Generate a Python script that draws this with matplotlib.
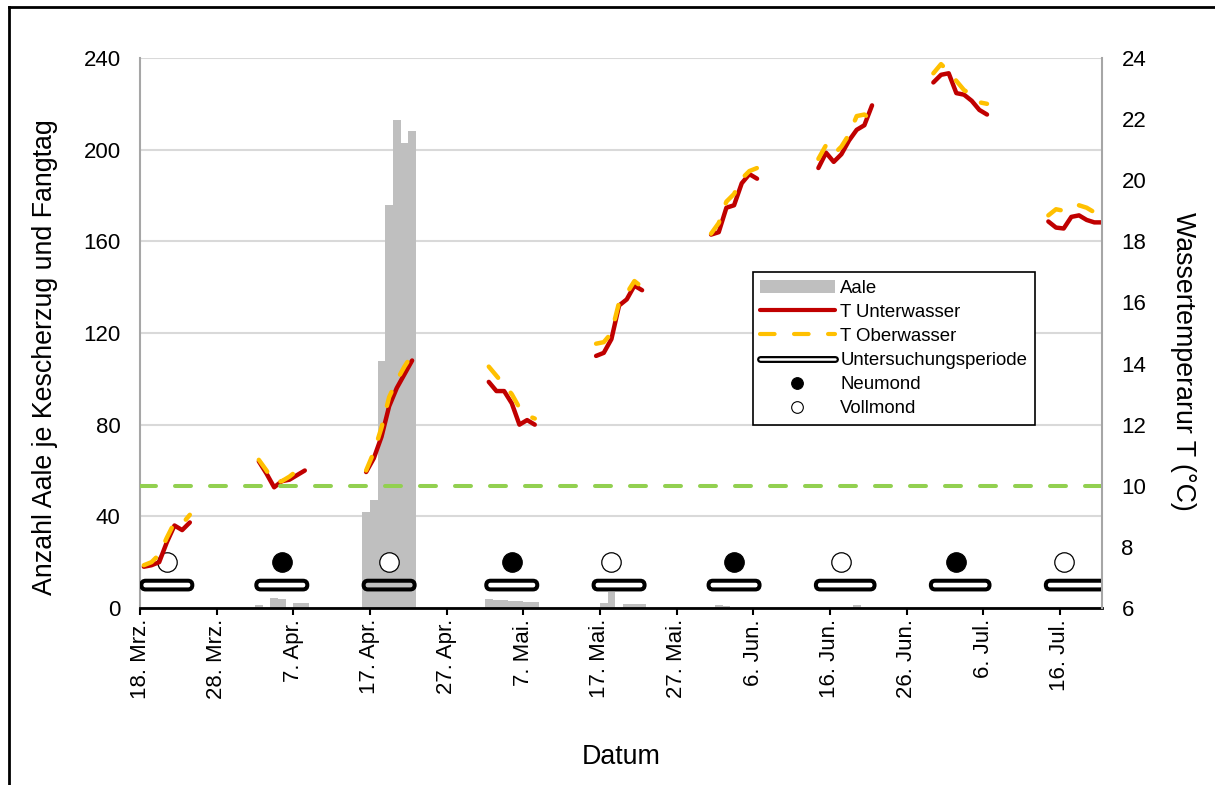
import matplotlib
matplotlib.use("Agg")
import matplotlib.pyplot as plt
import matplotlib.dates as mdates
from matplotlib.lines import Line2D
from matplotlib.patches import Patch, FancyBboxPatch
from matplotlib.legend_handler import HandlerTuple
import pandas as pd

plt.rcParams['font.family'] = ['Liberation Sans', 'DejaVu Sans']
plt.rcParams['lines.scale_dashes'] = False

# Untersuchungsperioden: Startdatum, Temperaturen je Fangtag
perioden_start = ["2019-03-18", "2019-04-02", "2019-04-16", "2019-05-02", "2019-05-16",
                  "2019-05-31", "2019-06-14", "2019-06-29", "2019-07-14"]

t_unter = [
    [7.35, 7.4, 7.5, 8.15, 8.7, 8.55, 8.8],
    [10.8, 10.4, 9.95, 10.15, 10.2, 10.35, 10.5],
    [10.45, 10.9, 11.6, 12.6, 13.2, 13.65, 14.1],
    [13.4, 13.1, 13.1, 12.7, 12.0, 12.15, 12.0],
    [14.25, 14.35, 14.8, 15.9, 16.1, 16.55, 16.4],
    [18.22, 18.3, 19.1, 19.18, 19.9, 20.2, 20.05],
    [20.4, 20.9, 20.6, 20.85, 21.3, 21.65, 21.8, 22.45],
    [23.2, 23.45, 23.5, 22.85, 22.8, 22.6, 22.3, 22.15],
    [18.65, 18.45, 18.42, 18.8, 18.85, 18.7, 18.62, 18.62],
]
t_ober = [
    [7.4, 7.5, 7.75, 8.3, 8.8, 8.75, 9.05],
    [10.85, 10.5, 10.1, 10.15, 10.3, 10.5, 10.6],
    [10.5, 11.1, 11.9, 12.9, 13.45, 13.9, 14.3],
    [13.9, 13.6, 13.3, 13.0, 12.55, 12.3, 12.2],
    [14.65, 14.7, 15.0, 16.0, 16.3, 16.7, 16.5],
    [18.25, 18.6, 19.3, 19.55, 20.05, 20.3, 20.4],
    [20.7, 21.15, 20.85, 21.1, 21.5, 22.1, 22.15, 21.95],
    [23.5, 23.8, 23.55, 23.25, 22.95, 22.8, 22.55, 22.5],
    [18.85, 19.05, 19.0, 19.05, 19.18, 19.1, 18.95, 18.9],
]

# Aale je Kescherzug und Fangtag
aale_datum = ["2019-04-02", "2019-04-04", "2019-04-05", "2019-04-07", "2019-04-08",
              "2019-04-16", "2019-04-17", "2019-04-18", "2019-04-19", "2019-04-20",
              "2019-04-21", "2019-04-22",
              "2019-05-02", "2019-05-03", "2019-05-04", "2019-05-05", "2019-05-06",
              "2019-05-07", "2019-05-08",
              "2019-05-17", "2019-05-18", "2019-05-20", "2019-05-21", "2019-05-22",
              "2019-06-01", "2019-06-02", "2019-06-19"]
aale_anzahl = [1.3, 4.2, 4.0, 2.0, 2.0,
               42, 47, 108, 176, 213, 203, 208,
               3.8, 3.5, 3.3, 3.2, 3.0, 2.6, 2.6,
               2.0, 7.0, 1.8, 1.8, 1.8,
               1.2, 0.8, 1.5]

neumond = ["2019-04-05", "2019-05-05", "2019-06-03", "2019-07-02"]
vollmond = ["2019-03-21", "2019-04-19", "2019-05-18", "2019-06-17", "2019-07-16"]
mond_y = 20
periode_y = 10
schwelle_t = 10

tick_labels = ["18. Mrz.", "28. Mrz.", "7. Apr.", "17. Apr.", "27. Apr.", "7. Mai.",
               "17. Mai.", "27. Mai.", "6. Jun.", "16. Jun.", "26. Jun.", "6. Jul.", "16. Jul."]

RED = '#c00000'
YEL = '#ffc000'
GRAY = '#bfbfbf'
GREEN = '#92d050'

W, H = 1215, 785
fig = plt.figure(figsize=(W / 100, H / 100), dpi=100)
ax_l, ax_r, ax_t, ax_b = 140, 1102, 58, 608
ax = fig.add_axes([ax_l / W, 1 - ax_b / H, (ax_r - ax_l) / W, (ax_b - ax_t) / H])
ax2 = ax.twinx()

start = pd.Timestamp("2019-03-18")
x0 = mdates.date2num(start)
ax.set_xlim(x0, x0 + 125.5)
ax.set_ylim(0, 240)
ax2.set_ylim(6, 24)

half = pd.Timedelta(hours=12)

# bars
ax.bar(pd.to_datetime(aale_datum) + half, aale_anzahl, width=1.0, color=GRAY, zorder=2)

# Untersuchungsperioden as hollow rounded bars (double line look)
px_day = (ax_r - ax_l) / 125.5
px_unit = (ax_b - ax_t) / 240
aspect = (1 / px_unit) / (1 / px_day)
hh_px = 8.7
for s, vals in zip(perioden_start, t_unter):
    d0 = mdates.date2num(pd.Timestamp(s) + half)
    d1 = d0 + len(vals) - 1
    ext = 2.5 / px_day
    r = (hh_px / 2) / px_day
    p = FancyBboxPatch((d0 - ext, periode_y - hh_px / 2 / px_unit),
                       d1 - d0 + 2 * ext, hh_px / px_unit,
                       boxstyle=f"round,pad=0,rounding_size={r}",
                       mutation_aspect=aspect, facecolor='none',
                       edgecolor='black', lw=2.9, zorder=4)
    ax.add_patch(p)

# moon phases
ax.plot(pd.to_datetime(neumond) + half, [mond_y] * len(neumond), 'o', ms=14,
        mfc='black', mec='black', mew=0.9, zorder=5, clip_on=False)
ax.plot(pd.to_datetime(vollmond) + half, [mond_y] * len(vollmond), 'o', ms=14,
        mfc='white', mec='black', mew=0.9, zorder=5, clip_on=False)

# temperature
yel_dash = (0, (10.5, 14))
for s, tu, to in zip(perioden_start, t_unter, t_ober):
    dates = pd.date_range(s, periods=len(tu), freq='D') + half
    ax2.plot(dates, tu, color=RED, lw=3.2, solid_capstyle='round', solid_joinstyle='round')
    ax2.plot(dates, to, color=YEL, lw=3.2, ls=yel_dash, dash_capstyle='round')

ax2.axhline(schwelle_t, color=GREEN, lw=2.9, ls=(0, (11.5, 13.7)), dash_capstyle='round')

# axes styling
ax.set_yticks(range(0, 241, 40))
ax2.set_yticks(range(6, 25, 2))
ticks = [x0 + 10 * i for i in range(len(tick_labels))]
ax.set_xticks(ticks)
ax.set_xticklabels(tick_labels, rotation=90, fontsize=16)
ax.yaxis.grid(True, color='#d9d9d9', lw=1.5, zorder=0)
ax.set_axisbelow(True)
ax.tick_params(axis='y', length=0, pad=14, labelsize=16)
ax2.tick_params(axis='y', length=0, pad=14, labelsize=16)
ax.tick_params(axis='x', direction='out', length=5, width=1.5, color='black', pad=3)

for a in (ax, ax2):
    a.spines['top'].set_visible(False)
ax.spines['right'].set_visible(False)
ax2.spines['left'].set_visible(False)
ax2.spines['bottom'].set_visible(False)
ax.spines['left'].set_color('#a6a6a6')
ax.spines['left'].set_linewidth(1.5)
ax2.spines['right'].set_color('#a6a6a6')
ax2.spines['right'].set_linewidth(1.5)
ax.spines['bottom'].set_color('black')
ax.spines['bottom'].set_linewidth(2)

fig.text(621 / W, 1 - 757 / H, "Datum", fontsize=19.3, ha='center', va='center')
fig.text(45 / W, 1 - 357 / H, "Anzahl Aale je Kescherzug und Fangtag", fontsize=19.3,
         rotation=90, ha='center', va='center')
fig.text(1183 / W, 1 - 361 / H, "Wassertemperarur T (°C)", fontsize=19.3,
         rotation=270, ha='center', va='center')

# legend
h_aale = Patch(facecolor=GRAY, edgecolor='none')
h_unter = Line2D([], [], color=RED, lw=3.0, solid_capstyle='round')
h_ober = Line2D([], [], color=YEL, lw=3.0, ls=yel_dash, dash_capstyle='round')
h_per = (Line2D([], [], color='black', lw=5.0, solid_capstyle='round'),
         Line2D([], [], color='white', lw=1.8, solid_capstyle='round'))
h_neu = Line2D([], [], ls='none', marker='o', ms=8.4, mfc='black', mec='black', mew=0.8)
h_voll = Line2D([], [], ls='none', marker='o', ms=8.4, mfc='white', mec='black', mew=0.8)
leg = ax2.legend([h_aale, h_unter, h_ober, h_per, h_neu, h_voll],
                 ["Aale", "T Unterwasser", "T Oberwasser", "Untersuchungsperiode",
                  "Neumond", "Vollmond"],
                 handler_map={tuple: HandlerTuple(ndivide=1, pad=0)},
                 loc='upper left', bbox_to_anchor=((752.7 - ax_l) / (ax_r - ax_l),
                                                    (ax_b - 272.3) / (ax_b - ax_t)),
                 borderaxespad=0, fontsize=13.4, fancybox=False, framealpha=1,
                 edgecolor='black', borderpad=0.4, handlelength=4.0,
                 handletextpad=0.3, labelspacing=0.38)
leg.get_frame().set_linewidth(1.2)
leg.set_zorder(10)

# outer frame (top and left only)
fig.add_artist(Line2D([8.5 / W, 1], [1 - 6.5 / H, 1 - 6.5 / H], transform=fig.transFigure,
                      color='black', lw=2))
fig.add_artist(Line2D([8.5 / W, 8.5 / W], [1 - 6.5 / H, 0], transform=fig.transFigure,
                      color='black', lw=2))

fig.savefig("out.png", dpi=100)
